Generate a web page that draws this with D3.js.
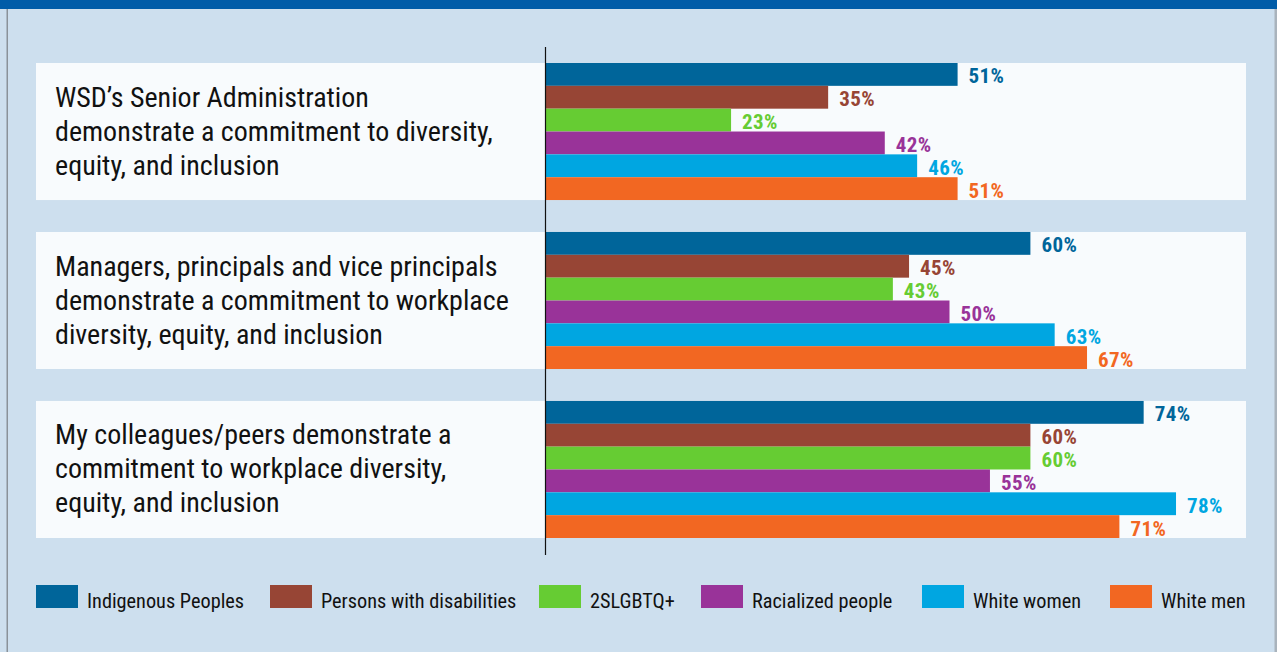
<!DOCTYPE html>
<html><head><meta charset="utf-8">
<script src="https://cdn.jsdelivr.net/npm/d3@7"></script>
<style>
html,body{margin:0;padding:0;background:#cddfee;}
svg{display:block;font-family:"Roboto Condensed","Liberation Sans Narrow",Roboto,sans-serif;}
</style></head><body>
<svg id="c" width="1277" height="652"></svg>
<script>
const categories = [
  ["WSD\u2019s Senior Administration","demonstrate a commitment to diversity,","equity, and inclusion"],
  ["Managers, principals and vice principals","demonstrate a commitment to workplace","diversity, equity, and inclusion"],
  ["My colleagues/peers demonstrate a","commitment to workplace diversity,","equity, and inclusion"]
];
const seriesNames = ["Indigenous Peoples","Persons with disabilities","2SLGBTQ+","Racialized people","White women","White men"];
const seriesColors = ["#00659a","#974535","#66cc33","#993399","#00a6e1","#f26722"];
const indigenous = [51,60,74];
const disabilities = [35,45,60];
const lgbtq = [23,43,60];
const racialized = [42,50,55];
const whiteWomen = [46,63,78];
const whiteMen = [51,67,71];
const values = [indigenous,disabilities,lgbtq,racialized,whiteWomen,whiteMen];

const svg = d3.select("#c");
const W=1277,H=652;
svg.append("rect").attr("width",W).attr("height",H).attr("fill","#cddfee");
svg.append("rect").attr("x",0).attr("y",0).attr("width",W).attr("height",9).attr("fill","#005ca8");
svg.append("rect").attr("x",6.5).attr("y",9).attr("width",1.5).attr("height",H-9).attr("fill","#8a9299");
svg.append("rect").attr("x",1274.5).attr("y",9).attr("width",2.5).attr("height",H-9).attr("fill","#a9b3bc");

const x = d3.scaleLinear().domain([0,100]).range([545,1354]);
const yGroup = d3.scaleBand().domain(d3.range(categories.length)).range([63,538]).paddingInner(0.189).paddingOuter(0);
const ySub = d3.scaleBand().domain(d3.range(seriesNames.length)).range([0,yGroup.bandwidth()]);

const g = svg.append("g");
categories.forEach((lines,i)=>{
  const y0 = yGroup(i);
  g.append("rect").attr("x",36).attr("y",y0).attr("width",1246-36).attr("height",yGroup.bandwidth()).attr("fill","#f8fbfd");
  const t = g.append("text").attr("x",55).attr("font-size",28).attr("fill","#111");
  const cy = y0 + yGroup.bandwidth()/2;
  lines.forEach((ln,k)=>{
    t.append("tspan").attr("x",55).attr("y",cy + (k-1)*34 + 9).text(ln);
  });
  values.forEach((arr,s)=>{
    const v = arr[i];
    g.append("rect").attr("x",x(0)).attr("y",y0+ySub(s)).attr("width",x(v)-x(0)).attr("height",ySub.bandwidth()).attr("fill",seriesColors[s]);
    g.append("text").attr("x",x(v)+11).attr("y",y0+ySub(s)+ySub.bandwidth()/2+9)
      .attr("font-size",21).attr("font-weight","bold").attr("letter-spacing",0.4).attr("fill",seriesColors[s]).text(v+"%");
  });
});
svg.append("line").attr("x1",545.5).attr("x2",545.5).attr("y1",47).attr("y2",555).attr("stroke","#111").attr("stroke-width",1.2);

const legX = [36,270,539,701,922,1110];
const leg = svg.append("g");
seriesNames.forEach((n,s)=>{
  leg.append("rect").attr("x",legX[s]).attr("y",585).attr("width",42).attr("height",23).attr("fill",seriesColors[s]);
  leg.append("text").attr("x",legX[s]+51).attr("y",608).attr("font-size",20.3).attr("fill","#111").text(n);
});
</script></body></html>
